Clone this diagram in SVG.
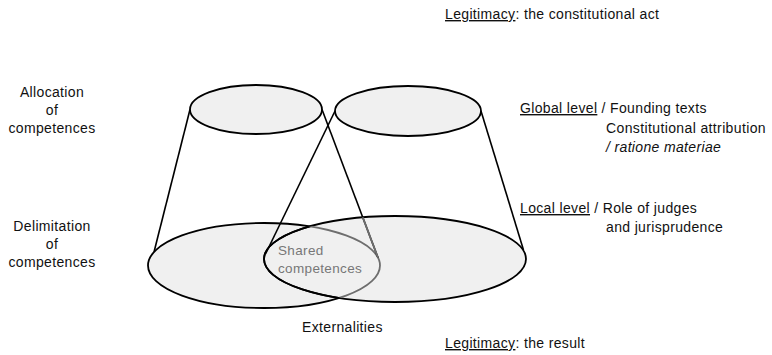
<svg xmlns="http://www.w3.org/2000/svg" width="772" height="355" viewBox="0 0 772 355">
<style>
text{font-family:"Liberation Sans",Arial,sans-serif;font-size:14px;fill:#111;letter-spacing:0.35px}
.c{text-anchor:middle}
.u{text-decoration:underline}
.e{fill:#f0f0f0;stroke:#000;stroke-width:1.8}
.ln{stroke:#000;stroke-width:1.6;fill:none}
.g{stroke:#6e6e6e;stroke-width:1.8;fill:none}
.sh{fill:#777;font-size:13.5px}
</style>
<defs>
<clipPath id="clipR"><ellipse cx="395" cy="259" rx="131" ry="43"/></clipPath>
<clipPath id="clipL"><ellipse cx="264" cy="265.5" rx="116" ry="42.5"/></clipPath>
</defs>
<rect width="772" height="355" fill="#fff"/>
<g id="bottom-left">
<ellipse class="e" cx="264" cy="265.5" rx="116" ry="42.5"/>
</g>
<g id="bottom-right">
<ellipse class="e" cx="395" cy="259" rx="131" ry="43"/>
</g>
<g id="shared">
<ellipse cx="264" cy="265.5" rx="116" ry="42.5" fill="#e6e6e6" class="g" clip-path="url(#clipR)"/>
<ellipse cx="395" cy="259" rx="131" ry="43" fill="none" stroke="#000" stroke-width="1.8" clip-path="url(#clipL)"/>
<text class="sh" x="278" y="255">Shared</text>
<text class="sh" x="278" y="272.5">competences</text>
</g>
<g id="top-left">
<ellipse class="e" cx="256" cy="109.5" rx="66" ry="24.5"/>
</g>
<g id="top-right">
<ellipse class="e" cx="408" cy="111" rx="73" ry="25"/>
</g>
<g id="connectors">
<line class="ln" x1="190" y1="109.5" x2="154" y2="252"/>
<line class="ln" x1="322" y1="109.5" x2="378" y2="257.7"/>
<line class="g" x1="322" y1="109.5" x2="378" y2="257.7" clip-path="url(#clipR)"/>
<line class="ln" x1="335" y1="111" x2="265.5" y2="254"/>
<line class="ln" x1="481" y1="111" x2="523.5" y2="250"/>
</g>
<g id="labels">
<text class="c" x="52" y="97">Allocation</text>
<text class="c" x="52" y="115">of</text>
<text class="c" x="52" y="133">competences</text>
<text class="c" x="52" y="231">Delimitation</text>
<text class="c" x="52" y="249">of</text>
<text class="c" x="52" y="267">competences</text>
<text x="445" y="19"><tspan class="u">Legitimacy</tspan>: the constitutional act</text>
<text x="520" y="113"><tspan class="u">Global level</tspan> / Founding texts</text>
<text x="606" y="132.5" textLength="160">Constitutional attribution</text>
<text x="606" y="151.5" font-style="italic">/ ratione materiae</text>
<text x="520" y="213"><tspan class="u">Local level</tspan> / Role of judges</text>
<text x="606" y="232">and jurisprudence</text>
<text x="302" y="332">Externalities</text>
<text x="445" y="348"><tspan class="u">Legitimacy</tspan>: the result</text>
</g>
</svg>
